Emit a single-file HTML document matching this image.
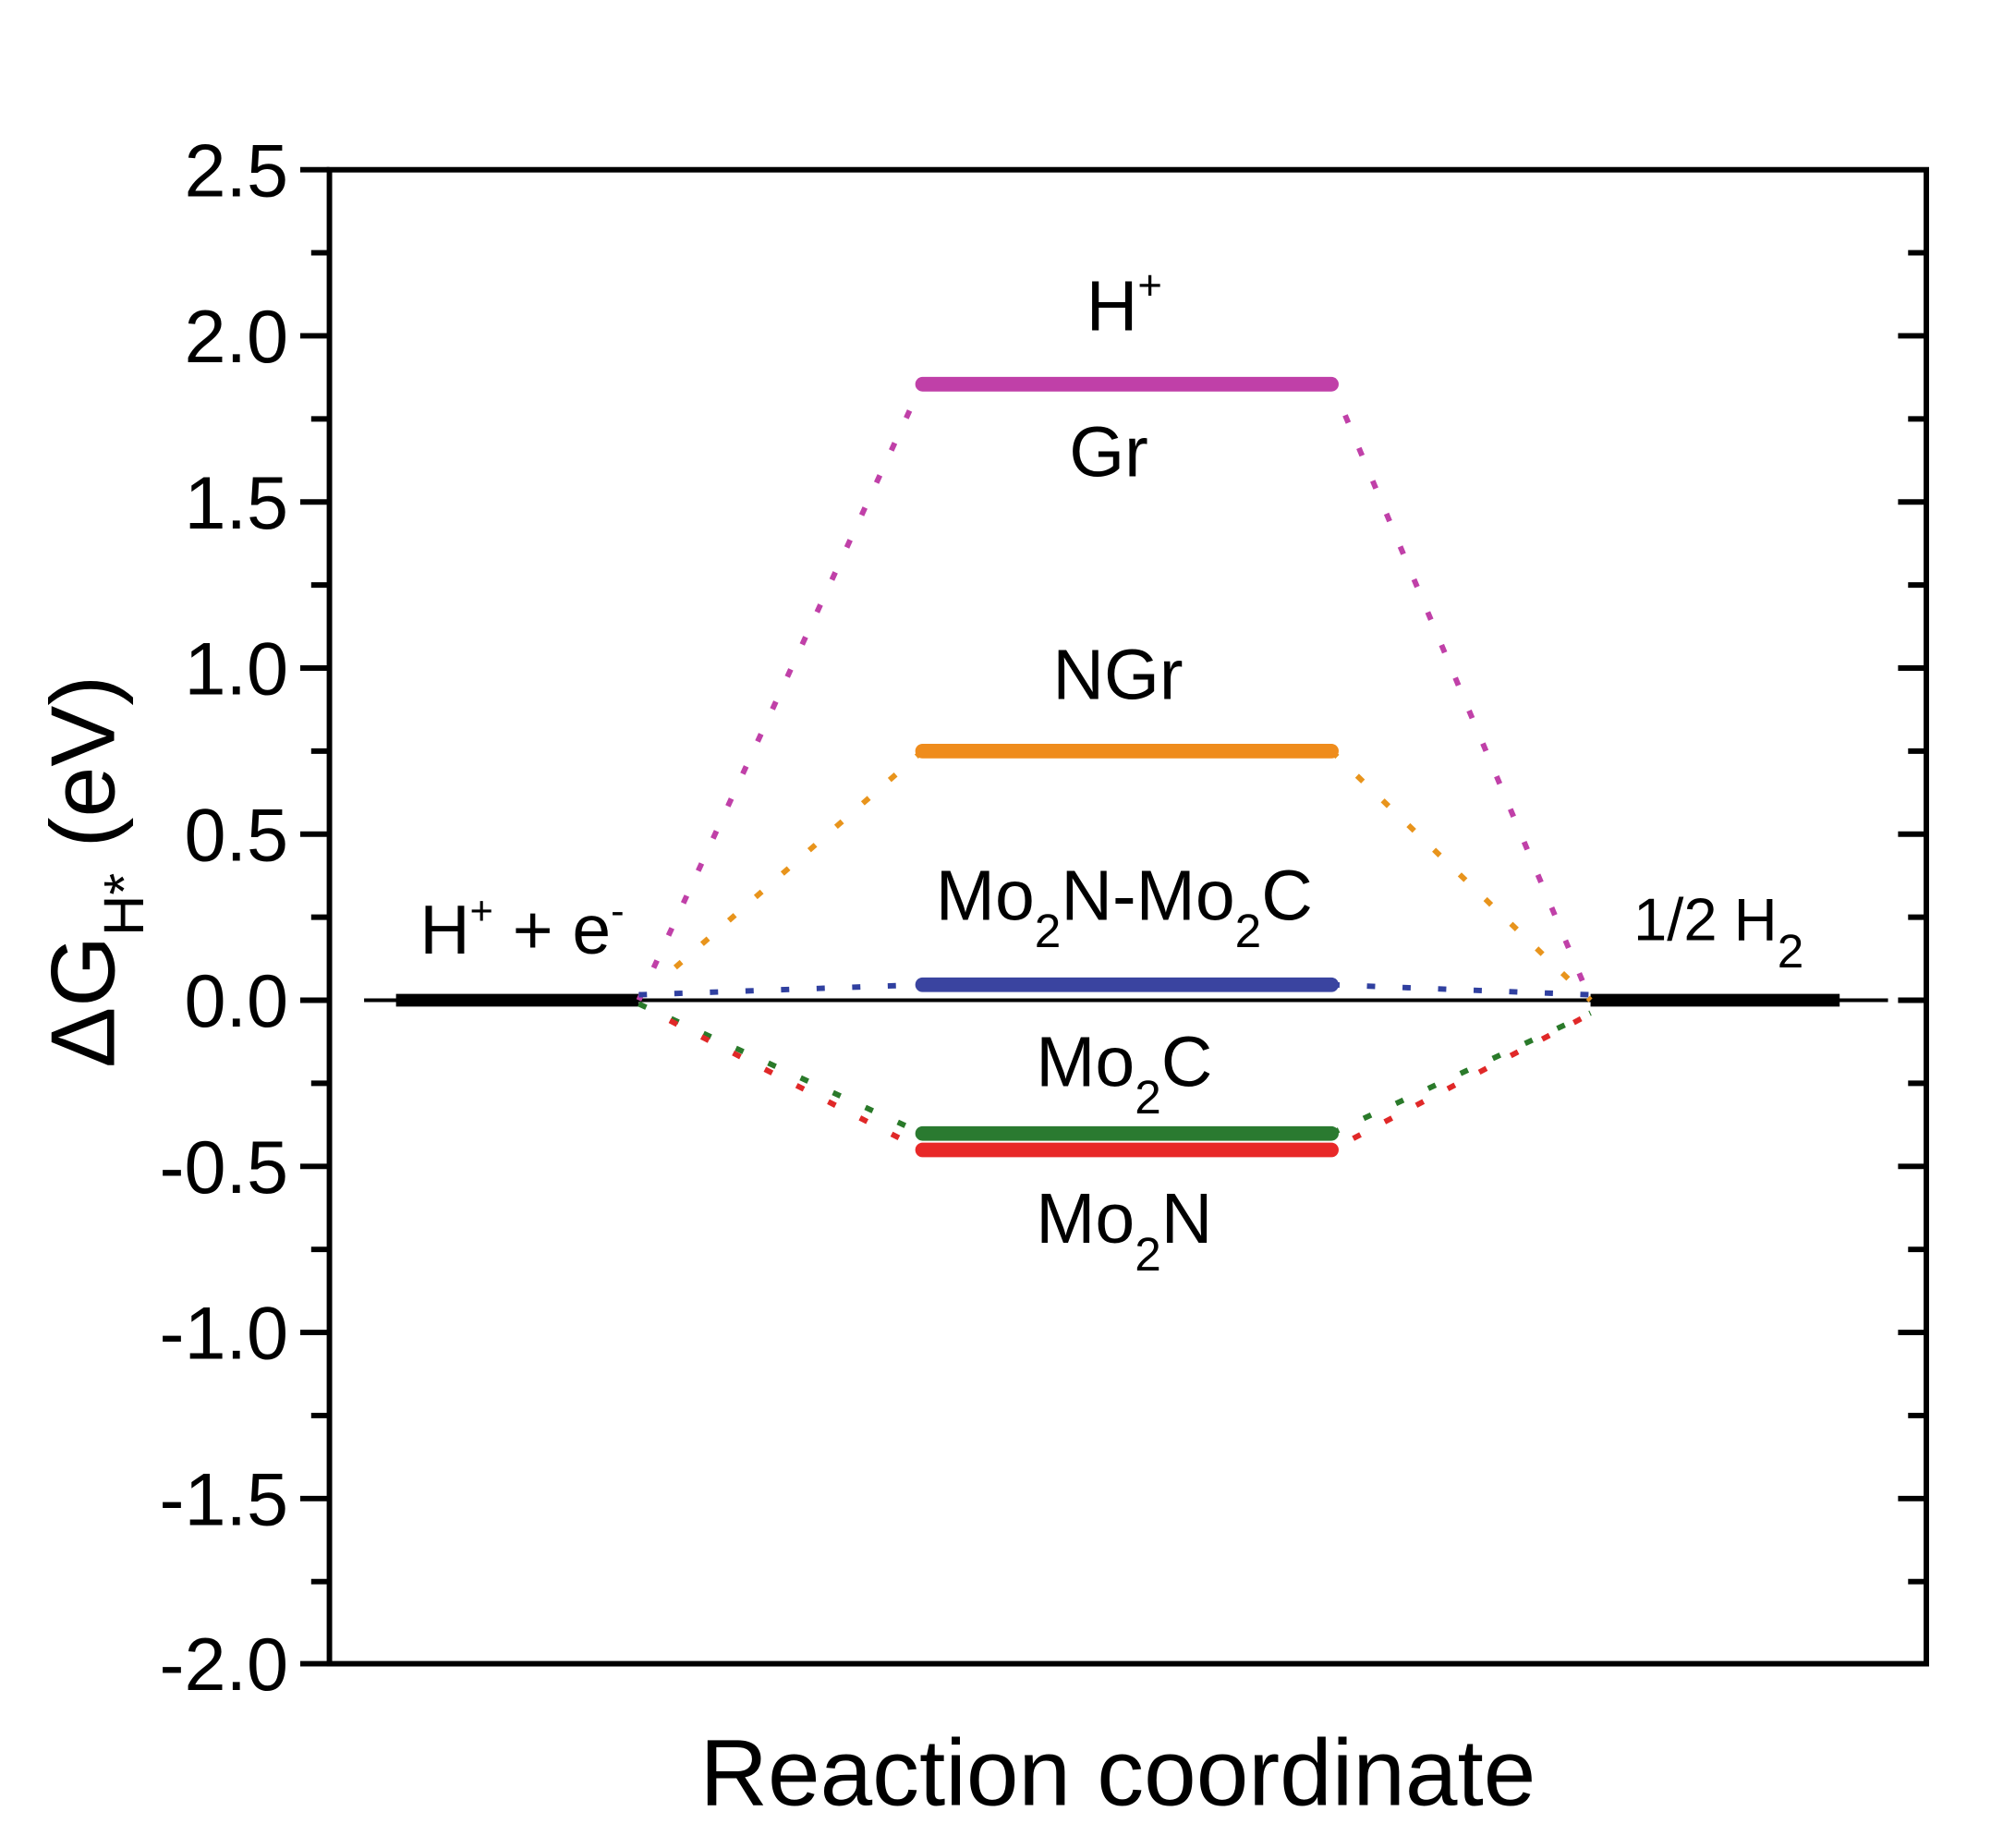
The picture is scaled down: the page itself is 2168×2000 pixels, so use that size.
<!DOCTYPE html>
<html><head><meta charset="utf-8"><style>html,body{margin:0;padding:0;background:#fff}svg{display:block}text{font-family:"Liberation Sans",Arial,sans-serif;fill:#000}</style></head>
<body>
<svg width="2168" height="2000" viewBox="0 0 2168 2000" xmlns="http://www.w3.org/2000/svg">
<rect width="2168" height="2000" fill="#fff"/>
<g transform="scale(0.9877)">
<rect x="361" y="186" width="1750" height="1637" fill="none" stroke="#000" stroke-width="6"/>
<g stroke="#000" stroke-width="6">
<line x1="329" y1="186" x2="361" y2="186"/><line x1="341" y1="277" x2="361" y2="277"/>
<line x1="329" y1="368" x2="361" y2="368"/><line x1="341" y1="459" x2="361" y2="459"/>
<line x1="329" y1="550" x2="361" y2="550"/><line x1="341" y1="641" x2="361" y2="641"/>
<line x1="329" y1="732" x2="361" y2="732"/><line x1="341" y1="823" x2="361" y2="823"/>
<line x1="329" y1="914" x2="361" y2="914"/><line x1="341" y1="1005" x2="361" y2="1005"/>
<line x1="329" y1="1096" x2="361" y2="1096"/><line x1="341" y1="1187" x2="361" y2="1187"/>
<line x1="329" y1="1278" x2="361" y2="1278"/><line x1="341" y1="1369" x2="361" y2="1369"/>
<line x1="329" y1="1460" x2="361" y2="1460"/><line x1="341" y1="1551" x2="361" y2="1551"/>
<line x1="329" y1="1642" x2="361" y2="1642"/><line x1="341" y1="1733" x2="361" y2="1733"/>
<line x1="329" y1="1823" x2="361" y2="1823"/>
<line x1="2080" y1="368" x2="2111" y2="368"/><line x1="2091" y1="277" x2="2111" y2="277"/>
<line x1="2091" y1="459" x2="2111" y2="459"/><line x1="2080" y1="550" x2="2111" y2="550"/>
<line x1="2091" y1="641" x2="2111" y2="641"/><line x1="2080" y1="732" x2="2111" y2="732"/>
<line x1="2091" y1="823" x2="2111" y2="823"/><line x1="2080" y1="914" x2="2111" y2="914"/>
<line x1="2091" y1="1005" x2="2111" y2="1005"/><line x1="2080" y1="1096" x2="2111" y2="1096"/>
<line x1="2091" y1="1187" x2="2111" y2="1187"/><line x1="2080" y1="1278" x2="2111" y2="1278"/>
<line x1="2091" y1="1369" x2="2111" y2="1369"/><line x1="2080" y1="1460" x2="2111" y2="1460"/>
<line x1="2091" y1="1551" x2="2111" y2="1551"/><line x1="2080" y1="1642" x2="2111" y2="1642"/>
<line x1="2091" y1="1733" x2="2111" y2="1733"/>
</g>
<g font-size="82" text-anchor="end">
<text x="316" y="215">2.5</text><text x="316" y="397">2.0</text><text x="316" y="579">1.5</text>
<text x="316" y="761">1.0</text><text x="316" y="943">0.5</text><text x="316" y="1125">0.0</text>
<text x="316" y="1307">-0.5</text><text x="316" y="1489">-1.0</text><text x="316" y="1671">-1.5</text>
<text x="316" y="1852">-2.0</text>
</g>
<line x1="399" y1="1096" x2="2069" y2="1096" stroke="#000" stroke-width="4"/>
<line x1="434" y1="1096" x2="700" y2="1096" stroke="#000" stroke-width="14"/>
<line x1="1743" y1="1096" x2="2016" y2="1096" stroke="#000" stroke-width="14"/>
<g stroke-width="6" stroke-dasharray="9 30" fill="none">
<path d="M700 1096 L1011 419 M1459 419 L1743 1096" stroke="#c040a8"/>
<path d="M740 1060 L1011 823 M1459 823 L1743 1096" stroke="#e8941c"/>
<path d="M700 1090 L1011 1079 M1459 1079 L1743 1090" stroke="#3040a0"/>
<path d="M700 1100 L1011 1242 M1459 1242 L1743 1110" stroke="#2a7a2a"/>
<path d="M710 1106 L1011 1260 M1459 1260 L1735 1115" stroke="#e02828" stroke-dashoffset="12"/>
</g>
<g stroke-width="16" stroke-linecap="round">
<line x1="1011" y1="421" x2="1459" y2="421" stroke="#c040a8"/>
<line x1="1011" y1="823" x2="1459" y2="823" stroke="#ef8c1c"/>
<line x1="1011" y1="1079" x2="1459" y2="1079" stroke="#3a44a0"/>
<line x1="1011" y1="1260" x2="1459" y2="1260" stroke="#e82828"/>
<line x1="1011" y1="1242" x2="1459" y2="1242" stroke="#2a7a30"/>
</g>
<g font-size="78" text-anchor="middle">
<text x="1232" y="362">H<tspan font-size="46" dy="-34">+</tspan></text>
<text x="1215" y="522">Gr</text>
<text x="1225" y="766">NGr</text>
<text x="1232" y="1008">Mo<tspan font-size="52" dy="30">2</tspan><tspan dy="-30">N-Mo</tspan><tspan font-size="52" dy="30">2</tspan><tspan dy="-30">C</tspan></text>
<text x="1232" y="1190">Mo<tspan font-size="52" dy="30">2</tspan><tspan dy="-30">C</tspan></text>
<text x="1232" y="1362">Mo<tspan font-size="52" dy="30">2</tspan><tspan dy="-30">N</tspan></text>
</g>
<text x="460" y="1045" font-size="76">H<tspan font-size="44" dy="-32">+</tspan><tspan dy="32"> + e</tspan><tspan font-size="44" dy="-32">-</tspan></text>
<text x="1790" y="1030" font-size="66">1/2  H<tspan font-size="52" dy="30">2</tspan></text>
<text transform="translate(125,955) rotate(-90)" font-size="100" text-anchor="middle">ΔG<tspan font-size="62" dy="32">H*</tspan><tspan dy="-32"> (eV)</tspan></text>
<text x="1225" y="1978" font-size="103" text-anchor="middle">Reaction coordinate</text>
</g>
</svg>
</body></html>
